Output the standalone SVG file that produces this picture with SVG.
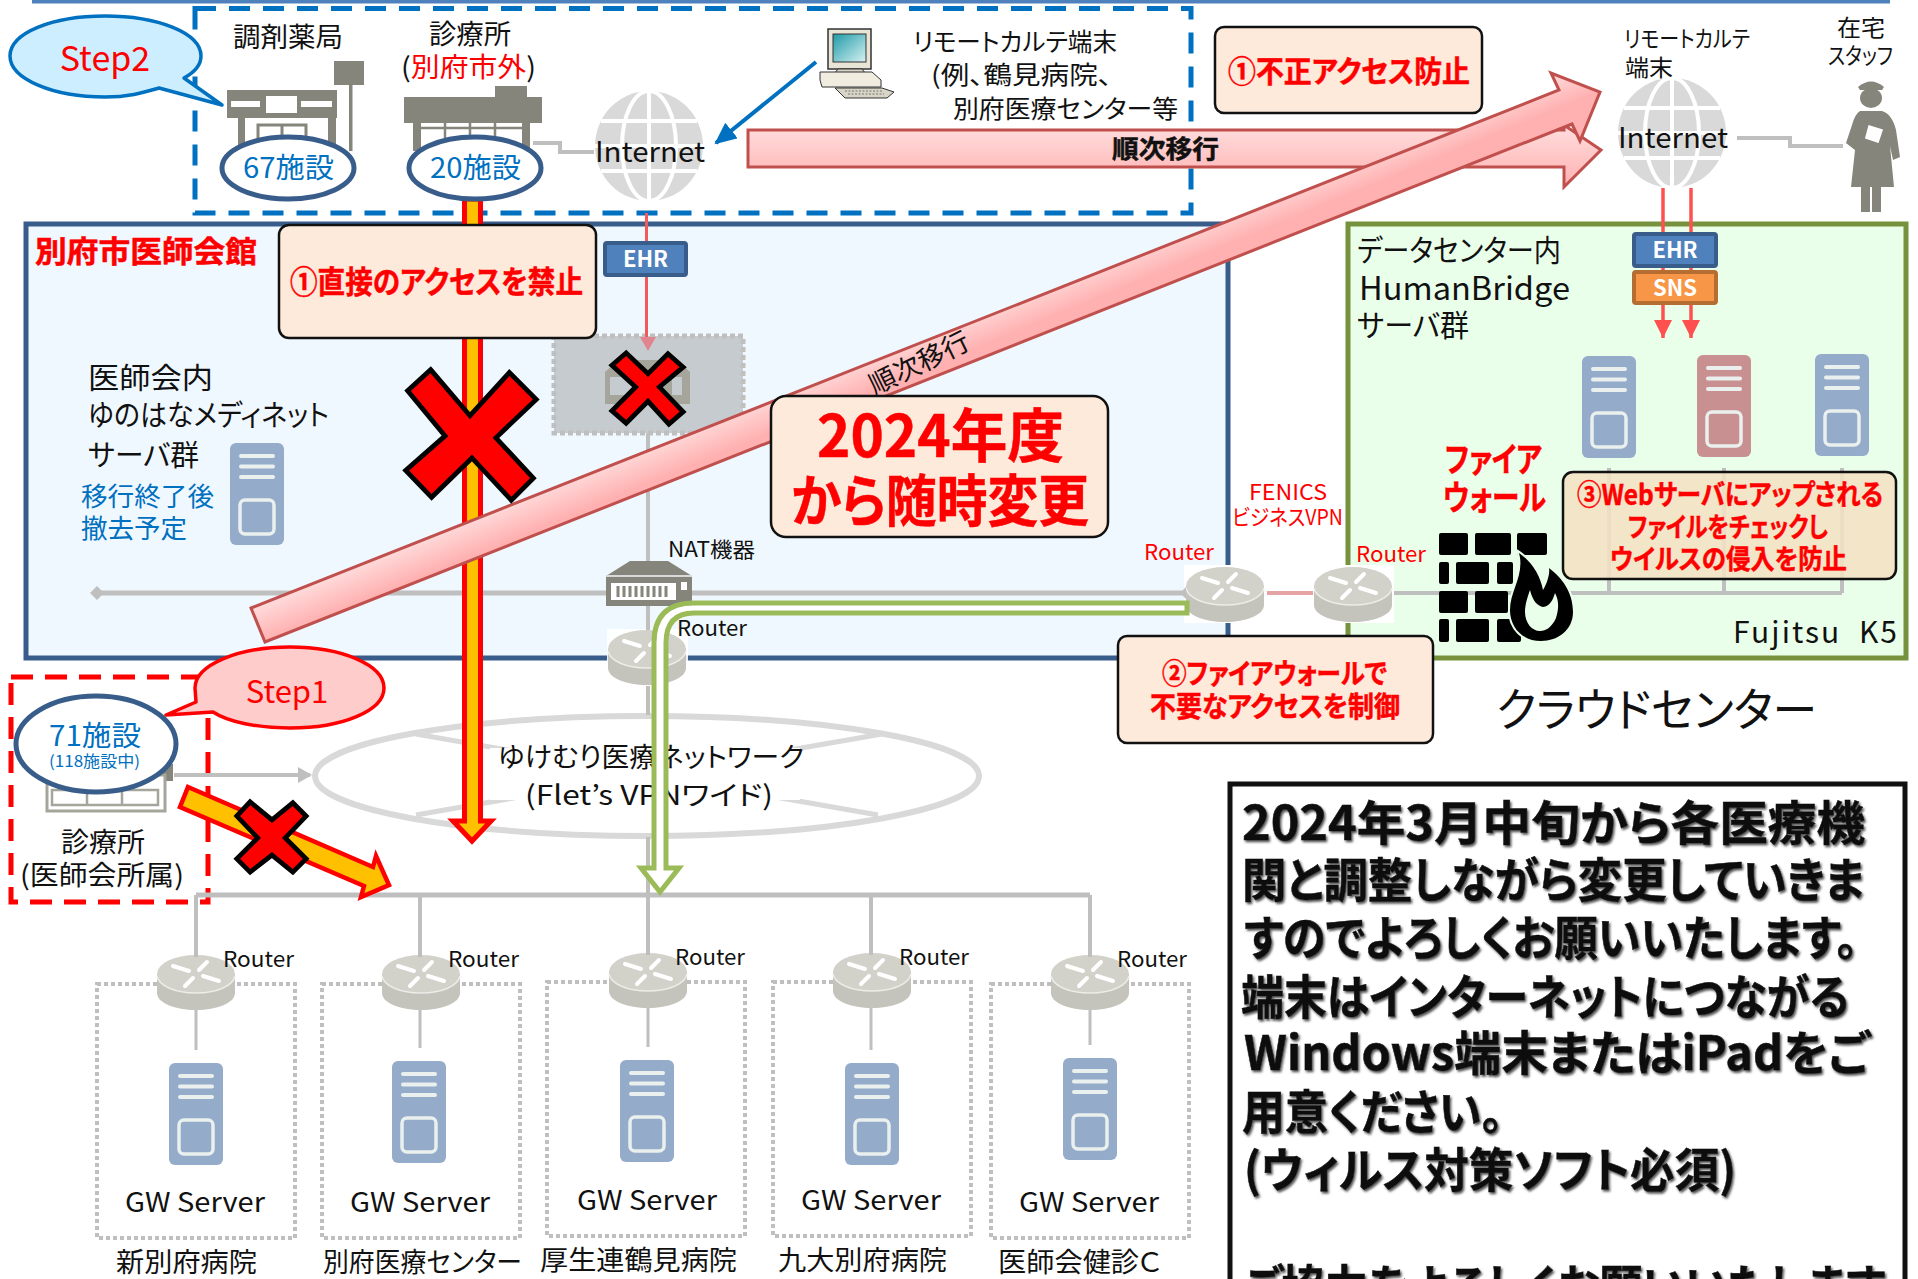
<svg xmlns="http://www.w3.org/2000/svg" width="1918" height="1279" viewBox="0 0 1918 1279">
<style>
text{font-family:"Noto Sans CJK JP","Noto Sans",sans-serif;dominant-baseline:central;transform:translateY(-.07em);fill:#111;font-feature-settings:"palt"}
.b{font-weight:700;stroke:#111;stroke-width:.5}.r{fill:#f00}.b.r{stroke:#f00}.bl{fill:#0070c0}.w{fill:#fff;stroke:none}
.box{fill:#fdeadb;stroke:#111;stroke-width:2.5}
.gl{fill:none;stroke:#bfbfbf;stroke-width:4}
.dot{fill:none;stroke:#bfbfbf;stroke-width:4;stroke-dasharray:4 3}
.x{fill:#f00;stroke:#000;stroke-width:5;stroke-linejoin:miter}
.bld{fill:#85857b}
</style>
<defs>
<linearGradient id="pink" x1="0" y1="0" x2="0" y2="1"><stop offset="0" stop-color="#ffdede"/><stop offset="1" stop-color="#ffb0b0"/></linearGradient>
<linearGradient id="pinkd" gradientUnits="userSpaceOnUse" x1="251" y1="608" x2="265" y2="642"><stop offset="0" stop-color="#ffdcdc"/><stop offset="1" stop-color="#ffb0b0"/></linearGradient>
<linearGradient id="screen" x1="0" y1="0" x2="1" y2="1"><stop offset="0" stop-color="#1f9aa8"/><stop offset="1" stop-color="#d6f2f2"/></linearGradient>
<filter id="sh" x="-5%" y="-15%" width="110%" height="130%"><feDropShadow dx="1.5" dy="2" stdDeviation="1" flood-color="#555"/></filter>
<marker id="mBlue" markerUnits="userSpaceOnUse" markerWidth="24" markerHeight="24" refX="20" refY="10" orient="auto"><path d="M0 0L22 10L0 20Z" fill="#0070c0"/></marker>
<marker id="mGray" markerUnits="userSpaceOnUse" markerWidth="16" markerHeight="20" refX="12" refY="10" orient="auto"><path d="M0 2L14 10L0 18Z" fill="#bfbfbf"/></marker>
<marker id="mRed" markerUnits="userSpaceOnUse" markerWidth="20" markerHeight="20" refX="18" refY="9" orient="auto"><path d="M0 0L18 9L0 18Z" fill="#ff5050"/></marker>
<g id="server"><rect width="54" height="102" rx="6"/><g fill="none" stroke="#e9f0ee" stroke-width="4" stroke-linecap="round"><path d="M11 13H43M11 23.500H43M11 34H43"/><rect x="10" y="57" width="34" height="34" rx="5" stroke-width="3.500"/></g></g>
<g id="router"><path d="M0 19V38C0 48 18 55 39 55S78 48 78 38V19Z" fill="#c4c4bc"/><ellipse cx="39" cy="19" rx="39" ry="19" fill="#d2d2cb"/><path d="M0 21C2 31 18 38 39 38S76 31 78 21" fill="none" stroke="#ecece8" stroke-width="1.500"/><path d="M16 11L32 16M62 26L46 21M50 7L42 15M28 31L36 23" stroke="#fff" stroke-width="4" stroke-linecap="round"/></g>
<g id="globe"><ellipse cx="54" cy="55" rx="54" ry="55" fill="#d9d9d9"/><g fill="none" stroke="#fff" stroke-width="4"><ellipse cx="54" cy="55" rx="27" ry="55"/><path d="M54 0V110M6 30H102M0 55H108M6 80H102"/></g></g>
</defs>
<rect width="1918" height="1279" fill="#fff"/>

<g id="top-rule"><path d="M32 1.500H1890" stroke="#4f81bd" stroke-width="4"/></g>

<g id="panel-ishikai"><rect x="26" y="224" width="1202" height="434" fill="#f0f8ff" stroke="#385d8a" stroke-width="5"/></g>
<g id="panel-cloud"><rect x="1348" y="224" width="558" height="434" fill="#eaffea" stroke="#76923c" stroke-width="5"/></g>
<g id="area-step2"><rect x="195" y="8.500" width="996" height="204.500" fill="none" stroke="#0070c0" stroke-width="5" stroke-dasharray="21 13"/></g>
<g id="area-step1"><rect x="11" y="677" width="197" height="225" fill="#fff" stroke="#f00" stroke-width="5" stroke-dasharray="22 12"/></g>

<g id="pharmacy">
<rect class="bld" x="334" y="61" width="30" height="24"/><rect class="bld" x="349" y="85" width="3.500" height="66"/>
<rect class="bld" x="227" y="90" width="110" height="28"/>
<rect x="231" y="101" width="29" height="6" fill="#fff"/><rect x="266" y="96" width="31" height="17" fill="#fff"/><rect x="301" y="101" width="31" height="6" fill="#fff"/>
<rect class="bld" x="238" y="118" width="7" height="30"/><rect class="bld" x="328" y="118" width="8" height="30"/>
<path d="M258 142V125H306V142M282 125V142" fill="none" stroke="#85857b" stroke-width="3"/>
<text x="233" y="37" font-size="27" textLength="110" lengthAdjust="spacingAndGlyphs">調剤薬局</text>
</g>
<g id="clinic">
<rect class="bld" x="495" y="86" width="32" height="14"/><rect class="bld" x="404" y="97" width="138" height="26"/>
<rect class="bld" x="413" y="123" width="8" height="28"/><rect class="bld" x="522" y="123" width="8" height="28"/>
<path d="M421 128H522M445 123V150M470 123V150M495 123V150" stroke="#85857b" stroke-width="2.500" fill="none"/>
<text x="429" y="34" font-size="27" textLength="82" lengthAdjust="spacingAndGlyphs">診療所</text>
<text x="401" y="67" font-size="27" textLength="135" lengthAdjust="spacingAndGlyphs">(<tspan class="r">別府市外</tspan>)</text>
</g>
<g id="internet-left"><use href="#globe" transform="translate(595,91)"/><text x="595" y="152" font-size="28" textLength="110" lengthAdjust="spacingAndGlyphs">Internet</text></g>
<g id="remote-terminal">
<rect x="828" y="29" width="43" height="40" fill="#e8e4d6" stroke="#333" stroke-width="1.500"/><rect x="833" y="34" width="33" height="28" fill="url(#screen)" stroke="#333"/>
<path d="M838 69H862L866 74H834Z" fill="#d8d4c6" stroke="#333"/>
<path d="M820 72H872L881 80V87H822L820 80Z" fill="#f0ede0" stroke="#333"/>
<path d="M835 88H882L894 92L887 98H845Z" fill="#d8d4c6" stroke="#333"/>
<path d="M845 91H882M848 94H884" stroke="#777" stroke-dasharray="2 1.500"/>
<text x="913" y="42" font-size="25" textLength="204" lengthAdjust="spacingAndGlyphs">リモートカルテ端末</text>
<text x="931" y="75" font-size="25" textLength="181" lengthAdjust="spacingAndGlyphs">(例、鶴見病院、</text>
<text x="953" y="109" font-size="25" textLength="225" lengthAdjust="spacingAndGlyphs">別府医療センター等</text>
</g>
<g id="internet-right"><use href="#globe" transform="translate(1618,78)"/><text x="1618" y="138" font-size="28" textLength="110" lengthAdjust="spacingAndGlyphs">Internet</text>
<text x="1624" y="39" font-size="23" textLength="126" lengthAdjust="spacingAndGlyphs">リモートカルテ</text><text x="1625" y="68" font-size="23" textLength="48" lengthAdjust="spacingAndGlyphs">端末</text></g>
<g id="home-staff">
<text x="1837" y="28" font-size="23" textLength="48" lengthAdjust="spacingAndGlyphs">在宅</text><text x="1828" y="56" font-size="23" textLength="65" lengthAdjust="spacingAndGlyphs">スタッフ</text>
<path d="M1858 87Q1871 76 1884 87L1882 90H1860Z" fill="#85857b"/><ellipse cx="1871" cy="98" rx="11" ry="10" fill="#85857b"/>
<path d="M1860 111H1882Q1892 114 1896 130L1900 157L1893 160L1890 146L1894 187H1851L1855 150L1846 143L1852 125Q1855 114 1860 111Z" fill="#85857b"/>
<rect x="1861" y="187" width="9" height="25" fill="#85857b"/><rect x="1872" y="187" width="9" height="25" fill="#85857b"/>
<path d="M1868 124L1884 129L1879 144L1864 139Z" fill="#fff" stroke="#85857b" stroke-width="1.500"/>
</g>

<g id="server-old"><use href="#server" fill="#95abca" transform="translate(230,443)"/>
<text class="b r" x="35" y="251" font-size="30" textLength="222" lengthAdjust="spacingAndGlyphs">別府市医師会館</text>
<text x="88" y="378" font-size="29" textLength="125" lengthAdjust="spacingAndGlyphs">医師会内</text>
<text x="88" y="415" font-size="29" textLength="241" lengthAdjust="spacingAndGlyphs">ゆのはなメディネット</text>
<text x="88" y="455" font-size="29" textLength="111" lengthAdjust="spacingAndGlyphs">サーバ群</text>
<text class="bl" x="81" y="496" font-size="26" textLength="133" lengthAdjust="spacingAndGlyphs">移行終了後</text>
<text class="bl" x="81" y="528" font-size="26" textLength="106" lengthAdjust="spacingAndGlyphs">撤去予定</text></g>
<g id="old-server-box"><rect x="554" y="336" width="189" height="97" fill="#c6cbcf" stroke="#bfbfbf" stroke-width="5" stroke-dasharray="5 3"/>
<path d="M605 372L618 360H677L690 372V404H605Z" fill="#a5a59c"/><rect x="610" y="377" width="22" height="18" fill="#c6cbcf"/><rect x="672" y="377" width="10" height="18" fill="#c6cbcf"/></g>

<g id="network"><ellipse cx="647" cy="776" rx="332" ry="60" fill="#fff" stroke="#d9d9d9" stroke-width="6"/>
<path d="M416 734L878 815M882 734L416 815" stroke="#d9d9d9" stroke-width="5"/><rect x="490" y="748" width="310" height="52" fill="#fff"/>
<text x="498" y="757" font-size="27" textLength="306" lengthAdjust="spacingAndGlyphs">ゆけむり医療ネットワーク</text>
<text x="525" y="795" font-size="27" textLength="248" lengthAdjust="spacingAndGlyphs">(Flet’s VPNワイド)</text></g>

<g id="nat"><path d="M606 576L630 561H668L692 576V606H606Z" fill="#85857b"/><rect x="606" y="575" width="86" height="2" fill="#d9d9d9"/><rect x="611" y="583" width="65" height="17" fill="#fff"/><path d="M618 586V597M624 586V597M630 586V597M636 586V597M642 586V597M648 586V597M654 586V597M660 586V597M666 586V597" stroke="#85857b" stroke-width="3"/><rect x="681" y="582" width="6" height="8" fill="#fff"/>
<text x="668" y="549" font-size="21" textLength="87" lengthAdjust="spacingAndGlyphs">NAT機器</text></g>
<g id="router-ishikai"><rect x="607" y="629" width="81" height="56" fill="#fff" opacity=".9"/><use href="#router" transform="translate(608,630)"/><text x="677" y="628" font-size="22" textLength="70" lengthAdjust="spacingAndGlyphs">Router</text></g>
<g id="router-fenics-a"><rect x="1184" y="565" width="82" height="58" fill="#fff"/><use href="#router" transform="translate(1186,567)"/><text class="r" x="1144" y="552" font-size="22" textLength="70" lengthAdjust="spacingAndGlyphs">Router</text></g>
<g id="router-fenics-b"><rect x="1312" y="565" width="82" height="58" fill="#fff"/><use href="#router" transform="translate(1314,567)"/><text class="r" x="1356" y="554" font-size="22" textLength="70" lengthAdjust="spacingAndGlyphs">Router</text></g>

<g id="k5-servers"><use href="#server" fill="#95abca" transform="translate(1582,356)"/><use href="#server" fill="#c89090" transform="translate(1697,355)"/><use href="#server" fill="#95abca" transform="translate(1815,354)"/>
<text x="1357" y="250" font-size="30" textLength="204" lengthAdjust="spacingAndGlyphs">データセンター内</text>
<text x="1359" y="288" font-size="32" textLength="211" lengthAdjust="spacingAndGlyphs">HumanBridge</text>
<text x="1357" y="325" font-size="30" textLength="112" lengthAdjust="spacingAndGlyphs">サーバ群</text>
<text x="1733" y="632" font-size="30" xml:space="preserve" textLength="164" lengthAdjust="spacing">Fujitsu  K5</text></g>

<g id="hospital-1"><rect class="dot" x="97" y="984" width="198" height="254"/><use href="#router" transform="translate(157,955)"/><use href="#server" fill="#95abca" transform="translate(169,1063)"/><text x="125" y="1202" font-size="27" textLength="140" lengthAdjust="spacingAndGlyphs">GW Server</text><text x="223" y="959" font-size="22" textLength="71" lengthAdjust="spacingAndGlyphs">Router</text><text x="116" y="1262" font-size="27" textLength="141" lengthAdjust="spacingAndGlyphs">新別府病院</text></g>
<g id="hospital-2"><rect class="dot" x="322" y="984" width="198" height="254"/><use href="#router" transform="translate(382,955)"/><use href="#server" fill="#95abca" transform="translate(392,1061)"/><text x="350" y="1202" font-size="27" textLength="140" lengthAdjust="spacingAndGlyphs">GW Server</text><text x="448" y="959" font-size="22" textLength="71" lengthAdjust="spacingAndGlyphs">Router</text><text x="323" y="1262" font-size="27" textLength="199" lengthAdjust="spacingAndGlyphs">別府医療センター</text></g>
<g id="hospital-3"><rect class="dot" x="547" y="982" width="198" height="254"/><use href="#router" transform="translate(609,953)"/><use href="#server" fill="#95abca" transform="translate(620,1060)"/><text x="577" y="1200" font-size="27" textLength="140" lengthAdjust="spacingAndGlyphs">GW Server</text><text x="675" y="957" font-size="22" textLength="70" lengthAdjust="spacingAndGlyphs">Router</text><text x="540" y="1260" font-size="27" textLength="197" lengthAdjust="spacingAndGlyphs">厚生連鶴見病院</text></g>
<g id="hospital-4"><rect class="dot" x="773" y="982" width="198" height="254"/><use href="#router" transform="translate(833,953)"/><use href="#server" fill="#95abca" transform="translate(845,1063)"/><text x="801" y="1200" font-size="27" textLength="140" lengthAdjust="spacingAndGlyphs">GW Server</text><text x="899" y="957" font-size="22" textLength="70" lengthAdjust="spacingAndGlyphs">Router</text><text x="778" y="1260" font-size="27" textLength="169" lengthAdjust="spacingAndGlyphs">九大別府病院</text></g>
<g id="hospital-5"><rect class="dot" x="991" y="984" width="198" height="254"/><use href="#router" transform="translate(1051,955)"/><use href="#server" fill="#95abca" transform="translate(1063,1058)"/><text x="1019" y="1202" font-size="27" textLength="140" lengthAdjust="spacingAndGlyphs">GW Server</text><text x="1117" y="959" font-size="22" textLength="70" lengthAdjust="spacingAndGlyphs">Router</text><text x="998" y="1262" font-size="27" textLength="163" lengthAdjust="spacingAndGlyphs">医師会健診Ｃ</text></g>

<g id="connectors">
<path class="gl" d="M533 143H560V152H594"/>
<path class="gl" d="M1737 138H1790V146H1843"/>
<path class="gl" d="M648 433V561M648 606V630M648 686V715M648 837V895"/>
<path d="M97 593H606M692 593H1186" fill="none" stroke="#bfbfbf" stroke-width="5"/>
<path d="M97 586L104 593L97 600L90 593Z" fill="#bfbfbf"/>
<path d="M1180 593L1186 587V599Z" fill="#bfbfbf"/>
<path d="M1267 593H1313" stroke="#e6a3a3" stroke-width="4"/>
<path class="gl" d="M1394 593H1842M1609 593V468M1724 593V468M1842 593V468"/>
<path d="M196 895H1090" stroke="#bfbfbf" stroke-width="5"/>
<path class="gl" d="M196 895V957M420 895V957M648 895V955M871 895V955M1090 895V957"/>
<path d="M196 1010V1050M420 1010V1048M648 1008V1047M871 1008V1050M1090 1010V1045" stroke="#bfbfbf" stroke-width="3"/>
<path class="gl" d="M174 775H310" marker-end="url(#mGray)"/>
<path d="M816 62L716 143" stroke="#0070c0" stroke-width="4" marker-end="url(#mBlue)"/>
<path d="M646.500 213V337" stroke="#f05a5a" stroke-width="3"/><path d="M640 337H656L648 351Z" fill="#e0858f"/>
<path d="M1663 188V338" stroke="#ff5050" stroke-width="3.500" marker-end="url(#mRed)"/>
<path d="M1691 188V338" stroke="#ff5050" stroke-width="3.500" marker-end="url(#mRed)"/>
<path d="M464.500 199H480.500V821H491L472 841L453 821H464.500Z" fill="#ffc000" stroke="#f00" stroke-width="5" stroke-linejoin="miter"/>
<path d="M188 787L373 867L376 856L389 885L361 897L364 886L180 807Z" fill="#ffc000" stroke="#f00" stroke-width="4.500"/>
<path d="M1187 603H694Q654 603 654 643V868H641L660 892L679 868H666V643Q666 613 694 613H1187Z" fill="#fff" stroke="#9bbb59" stroke-width="5" stroke-linejoin="miter"/>
<path d="M748 130H1564V125L1601 150L1564 187V167H748Z" fill="url(#pink)" stroke="#c0504d" stroke-width="3"/>
<path d="M251 608L1559 90L1551 73L1600 92L1580 141L1572 124L265 642Z" fill="url(#pinkd)" stroke="#c0504d" stroke-width="3"/>
</g>

<g id="label-junji-h"><text class="b" x="1112" y="149" font-size="25" textLength="107" lengthAdjust="spacingAndGlyphs">順次移行</text></g>
<g id="label-junji-d" transform="rotate(-26 919 363)"><text x="919" y="363" font-size="27" text-anchor="middle">順次移行</text></g>

<g id="badge-67"><ellipse cx="288" cy="168" rx="66" ry="31" fill="#fff" stroke="#385d8a" stroke-width="5"/><text class="bl" x="243" y="168" font-size="28" textLength="91" lengthAdjust="spacingAndGlyphs">67施設</text></g>
<g id="badge-20"><ellipse cx="475" cy="168" rx="66" ry="31" fill="#fff" stroke="#385d8a" stroke-width="5"/><text class="bl" x="430" y="168" font-size="28" textLength="91" lengthAdjust="spacingAndGlyphs">20施設</text></g>
<g id="step2"><path d="M201 56C201 33 158 16 105 16S10 33 10 56S53 97 105 97C130 97 145 92 159 88L222 105L184 78C195 72 201 64 201 56Z" fill="#cceeff" stroke="#0070c0" stroke-width="3.500" stroke-linejoin="round"/><text class="r" x="105" y="59" font-size="34" text-anchor="middle">Step2</text></g>
<g id="clinic-71"><rect class="bld" x="60" y="764" width="113" height="17"/><rect x="47" y="775" width="118" height="36" fill="#fff" stroke="#a5a59b" stroke-width="3"/><path d="M52 790H158V805H52ZM87 790V805M122 790V805" fill="none" stroke="#a5a59b" stroke-width="2.500"/>
<text x="61" y="842" font-size="27" textLength="84" lengthAdjust="spacingAndGlyphs">診療所</text>
<text x="20" y="875" font-size="27" textLength="164" lengthAdjust="spacingAndGlyphs">(医師会所属)</text></g>
<g id="step1"><path d="M384 688C384 665 342 647 290 647S195 665 195 688L196 702L166 715L213 712C228 722 258 728 290 728C342 728 384 711 384 688Z" fill="#ffcccc" stroke="#f00" stroke-width="3.500" stroke-linejoin="round"/><text class="r" x="287" y="692" font-size="31" text-anchor="middle">Step1</text></g>
<g id="badge-71"><ellipse cx="96" cy="744" rx="80" ry="48" fill="#fff" stroke="#385d8a" stroke-width="5"/><text class="bl" x="49" y="736" font-size="28" textLength="92" lengthAdjust="spacingAndGlyphs">71施設</text><text class="bl" x="49" y="761" font-size="16" textLength="91" lengthAdjust="spacingAndGlyphs">(118施設中)</text></g>

<g id="tag-ehr-left"><rect x="605" y="243" width="81" height="32" rx="2" fill="#4f81bd" stroke="#385d8a" stroke-width="4"/><text class="b w" x="645.500" y="259" font-size="22" text-anchor="middle">EHR</text></g>
<g id="tag-ehr-right"><rect x="1634" y="234" width="82" height="32" rx="2" fill="#4f81bd" stroke="#385d8a" stroke-width="4"/><text class="b w" x="1675" y="250" font-size="22" text-anchor="middle">EHR</text></g>
<g id="tag-sns"><rect x="1634" y="272" width="82" height="31" rx="2" fill="#f79646" stroke="#b66d31" stroke-width="4"/><text class="b w" x="1675" y="288" font-size="22" text-anchor="middle">SNS</text></g>

<g id="note-fraud"><rect class="box" x="1215" y="27" width="267" height="86" rx="9"/><text class="b r" x="1228" y="71" font-size="30" textLength="242" lengthAdjust="spacingAndGlyphs">①不正アクセス防止</text></g>
<g id="note-direct"><rect class="box" x="279" y="225" width="317" height="113" rx="10"/><text class="b r" x="290" y="282" font-size="31" textLength="293" lengthAdjust="spacingAndGlyphs">①直接のアクセスを禁止</text></g>
<g id="note-2024"><rect class="box" x="771" y="396" width="337" height="141" rx="15"/><text class="b r" x="817" y="436" font-size="58" textLength="247" lengthAdjust="spacingAndGlyphs">2024年度</text><text class="b r" x="791" y="500" font-size="56" textLength="298" lengthAdjust="spacingAndGlyphs">から随時変更</text></g>
<g id="note-fw"><rect class="box" x="1118" y="636" width="315" height="107" rx="9"/><text class="b r" x="1162" y="674" font-size="28" textLength="225" lengthAdjust="spacingAndGlyphs">②ファイアウォールで</text><text class="b r" x="1150" y="707" font-size="28" textLength="250" lengthAdjust="spacingAndGlyphs">不要なアクセスを制御</text></g>
<g id="note-web"><rect x="1563" y="472" width="333" height="107" rx="10" fill="#f4e2c2" fill-opacity=".86" stroke="#111" stroke-width="2.500"/><text class="b r" x="1577" y="495" font-size="28" textLength="306" lengthAdjust="spacingAndGlyphs">③Webサーバにアップされる</text><text class="b r" x="1628" y="527" font-size="27" textLength="200" lengthAdjust="spacingAndGlyphs">ファイルをチェックし</text><text class="b r" x="1610" y="559" font-size="27" textLength="237" lengthAdjust="spacingAndGlyphs">ウイルスの侵入を防止</text></g>

<g id="firewall">
<text class="b r" x="1445" y="460" font-size="34" textLength="97" lengthAdjust="spacingAndGlyphs">ファイア</text><text class="b r" x="1443" y="498" font-size="34" textLength="103" lengthAdjust="spacingAndGlyphs">ウォール</text>
<g fill="#000"><rect x="1439" y="533" width="29" height="22" rx="2"/><rect x="1475" y="533" width="36" height="22" rx="2"/><rect x="1517" y="533" width="30" height="22" rx="2"/>
<rect x="1439" y="562" width="10" height="22" rx="2"/><rect x="1456" y="562" width="33" height="22" rx="2"/><rect x="1497" y="562" width="16" height="22" rx="2"/>
<rect x="1439" y="591" width="29" height="22" rx="2"/><rect x="1475" y="591" width="33" height="22" rx="2"/>
<rect x="1439" y="619" width="10" height="23" rx="2"/><rect x="1456" y="619" width="33" height="23" rx="2"/><rect x="1497" y="619" width="24" height="23" rx="2"/></g>
<path d="M1519 553C1532 562 1540 575 1543 590C1548 582 1550 572 1549 568C1562 578 1573 592 1573 612C1573 630 1558 641 1541 641C1523 641 1510 628 1510 610C1510 590 1525 575 1519 553Z" fill="#000" stroke="#eaffea" stroke-width="4" paint-order="stroke"/>
<path d="M1530 590C1533 602 1538 606 1543 607C1550 606 1553 600 1555 593C1560 602 1558 612 1556 618C1552 627 1546 631 1540 631C1532 631 1525 623 1525 612C1525 604 1528 596 1530 590Z" fill="#eaffea"/>
</g>
<g id="label-fenics"><text class="r" x="1249" y="492" font-size="22" textLength="78" lengthAdjust="spacingAndGlyphs">FENICS</text><text class="r" x="1232" y="517" font-size="22" textLength="111" lengthAdjust="spacingAndGlyphs">ビジネスVPN</text></g>
<g id="label-cloud"><text x="1496" y="709" font-size="46" textLength="321" lengthAdjust="spacingAndGlyphs">クラウドセンター</text></g>

<g id="x-big"><path class="x" transform="translate(470 433) scale(.96) translate(-470 -433)" d="M429 367L470 415L511 370L539 398L497 438L536 480L513 503L472 459L430 500L403 472L444 436L405 389Z"/></g>
<g id="x-small"><path class="x" transform="translate(648 388) scale(.95) translate(-648 -388)" d="M625 351L648 373L669 352L685 366L660 387L685 413L670 426L648 402L625 425L610 412L635 387L610 364Z"/></g>
<g id="x-step1"><path class="x" transform="translate(271 837) scale(.95) translate(-271 -837)" d="M249 800L272 819L294 801L308 815L286 838L308 860L294 874L272 856L249 874L235 860L257 838L235 815Z"/></g>

<g id="notice"><rect x="1230" y="784" width="675" height="520" fill="#fff" stroke="#111" stroke-width="5"/>
<g filter="url(#sh)" font-size="47">
<text class="b" x="1242" y="823" textLength="623" lengthAdjust="spacingAndGlyphs">2024年3月中旬から各医療機</text>
<text class="b" x="1242" y="880" textLength="623" lengthAdjust="spacingAndGlyphs">関と調整しながら変更していきま</text>
<text class="b" x="1244" y="938" textLength="614" lengthAdjust="spacingAndGlyphs">すのでよろしくお願いいたします。</text>
<text class="b" x="1241" y="997" textLength="608" lengthAdjust="spacingAndGlyphs">端末はインターネットにつながる</text>
<text class="b" x="1244" y="1053" textLength="625" lengthAdjust="spacingAndGlyphs">Windows端末またはiPadをご</text>
<text class="b" x="1242" y="1112" textLength="261" lengthAdjust="spacingAndGlyphs">用意ください。</text>
<text class="b" x="1244" y="1170" textLength="492" lengthAdjust="spacingAndGlyphs">(ウィルス対策ソフト必須)</text>
<text class="b" x="1244" y="1287" textLength="641" lengthAdjust="spacingAndGlyphs">ご協力をよろしくお願いいたします</text>
</g></g>
</svg>
